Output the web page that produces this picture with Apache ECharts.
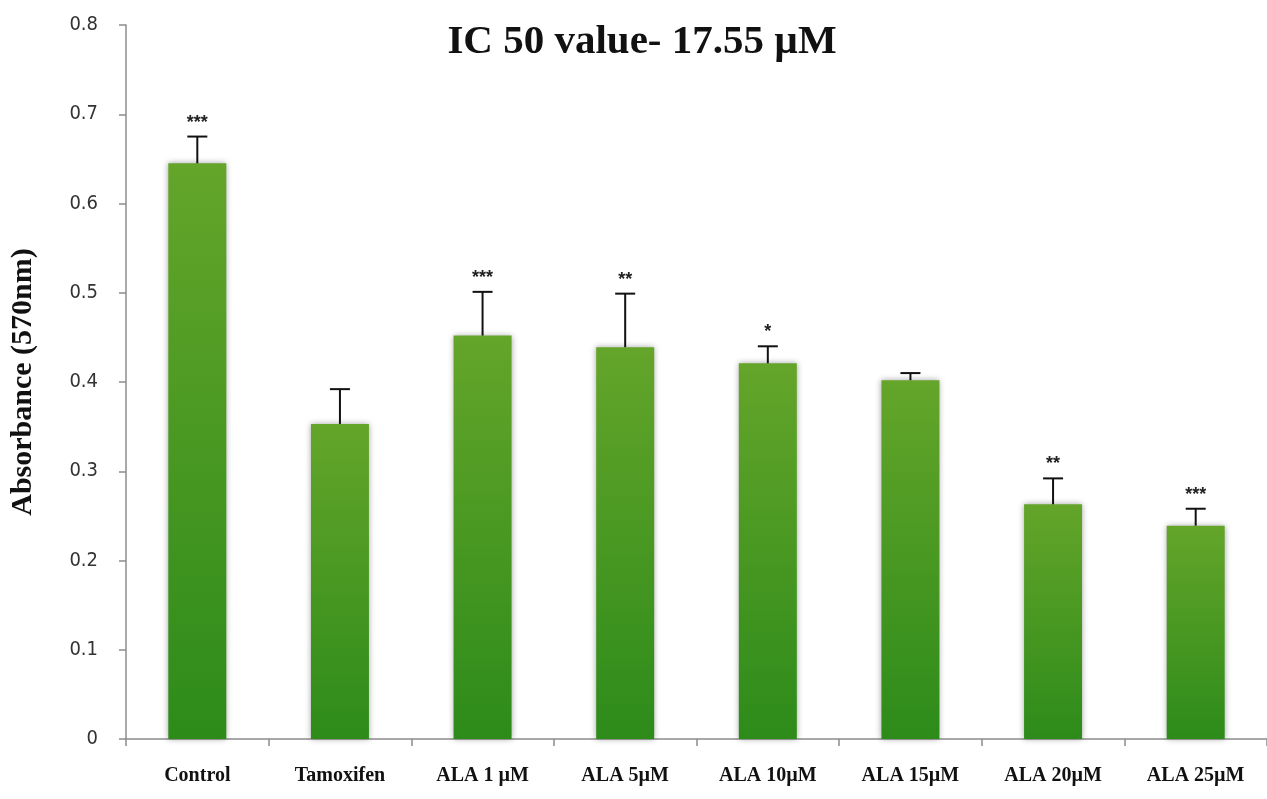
<!DOCTYPE html>
<html><head><meta charset="utf-8">
<script src="https://cdn.jsdelivr.net/npm/echarts@6/dist/echarts.min.js"></script>
<style>html,body{margin:0;padding:0;background:#fff}#c{width:1267px;height:799px}</style>
</head><body><div id="c"></div>
<script>
const categories = ['Control','Tamoxifen','ALA 1 µM','ALA 5µM','ALA 10µM','ALA 15µM','ALA 20µM','ALA 25µM'];
const means = [0.645, 0.353, 0.452, 0.439, 0.421, 0.402, 0.263, 0.239];
const errors = [0.030, 0.039, 0.049, 0.060, 0.019, 0.008, 0.029, 0.019];
const stars = ['***','','***','**','*','','**','***'];
const yTicks = [0, 0.1, 0.2, 0.3, 0.4, 0.5, 0.6, 0.7, 0.8];

const chart = echarts.init(document.getElementById('c'));
const errData = means.map((m, i) => [i, m + errors[i], m, stars[i]]);
chart.setOption({
  animation: false,
  title: {
    text: 'IC 50 value- 17.55 µM', left: 637, top: 17, textAlign: 'center',
    textStyle: {fontFamily: 'Liberation Serif', fontWeight: 'bold', fontSize: 41, color: '#111'}
  },
  grid: {left: 126, top: 25, width: 1149, height: 714},
  xAxis: {
    type: 'category', data: categories,
    axisLine: {lineStyle: {color: '#8c8c8c', width: 1.5}},
    axisTick: {show: true, length: 7, lineStyle: {color: '#8c8c8c', width: 1.5}},
    axisLabel: {margin: 27, fontFamily: 'Liberation Serif', fontWeight: 'bold', fontSize: 20, color: '#111'}
  },
  yAxis: {
    type: 'value', min: 0, max: 0.8, interval: 0.1,
    name: 'Absorbance (570nm)', nameLocation: 'middle', nameGap: 88,
    nameTextStyle: {fontFamily: 'Liberation Serif', fontWeight: 'bold', fontSize: 30, color: '#111'},
    axisLine: {show: true, lineStyle: {color: '#8c8c8c', width: 1.5}},
    axisTick: {show: true, length: 7, lineStyle: {color: '#8c8c8c', width: 1.5}},
    splitLine: {show: false},
    axisLabel: {margin: 28, fontFamily: '"DejaVu Sans Condensed", "Liberation Sans Narrow", "Liberation Sans", sans-serif', fontSize: 20, color: '#333',
      formatter: v => { const t = yTicks.find(x => Math.abs(x - v) < 1e-9); return t === undefined ? '' : String(t); }}
  },
  series: [
    {
      type: 'bar', data: means, barWidth: 58, z: 2,
      itemStyle: {
        color: new echarts.graphic.LinearGradient(0, 0, 0, 1, [
          {offset: 0, color: '#64a52a'}, {offset: 1, color: '#2d8b1a'}
        ]),
        shadowColor: 'rgba(0,0,0,0.35)', shadowBlur: 6
      }
    },
    {
      type: 'custom', data: errData, z: 5,
      renderItem: (params, api) => {
        const x = api.coord([api.value(0), api.value(1)]);
        const b = api.coord([api.value(0), api.value(2)]);
        const s = errData[params.dataIndex][3];
        const style = {stroke: '#111', lineWidth: 2};
        const children = [
          {type: 'line', shape: {x1: x[0], y1: x[1], x2: x[0], y2: b[1]}, style},
          {type: 'line', shape: {x1: x[0] - 10, y1: x[1], x2: x[0] + 10, y2: x[1]}, style}
        ];
        if (s) children.push({type: 'text', style: {text: s, x: x[0], y: x[1] - 5, align: 'center', verticalAlign: 'bottom',
          font: 'bold 18px "Liberation Sans", sans-serif', fill: '#222'}});
        return {type: 'group', children};
      }
    }
  ]
});
</script></body></html>
